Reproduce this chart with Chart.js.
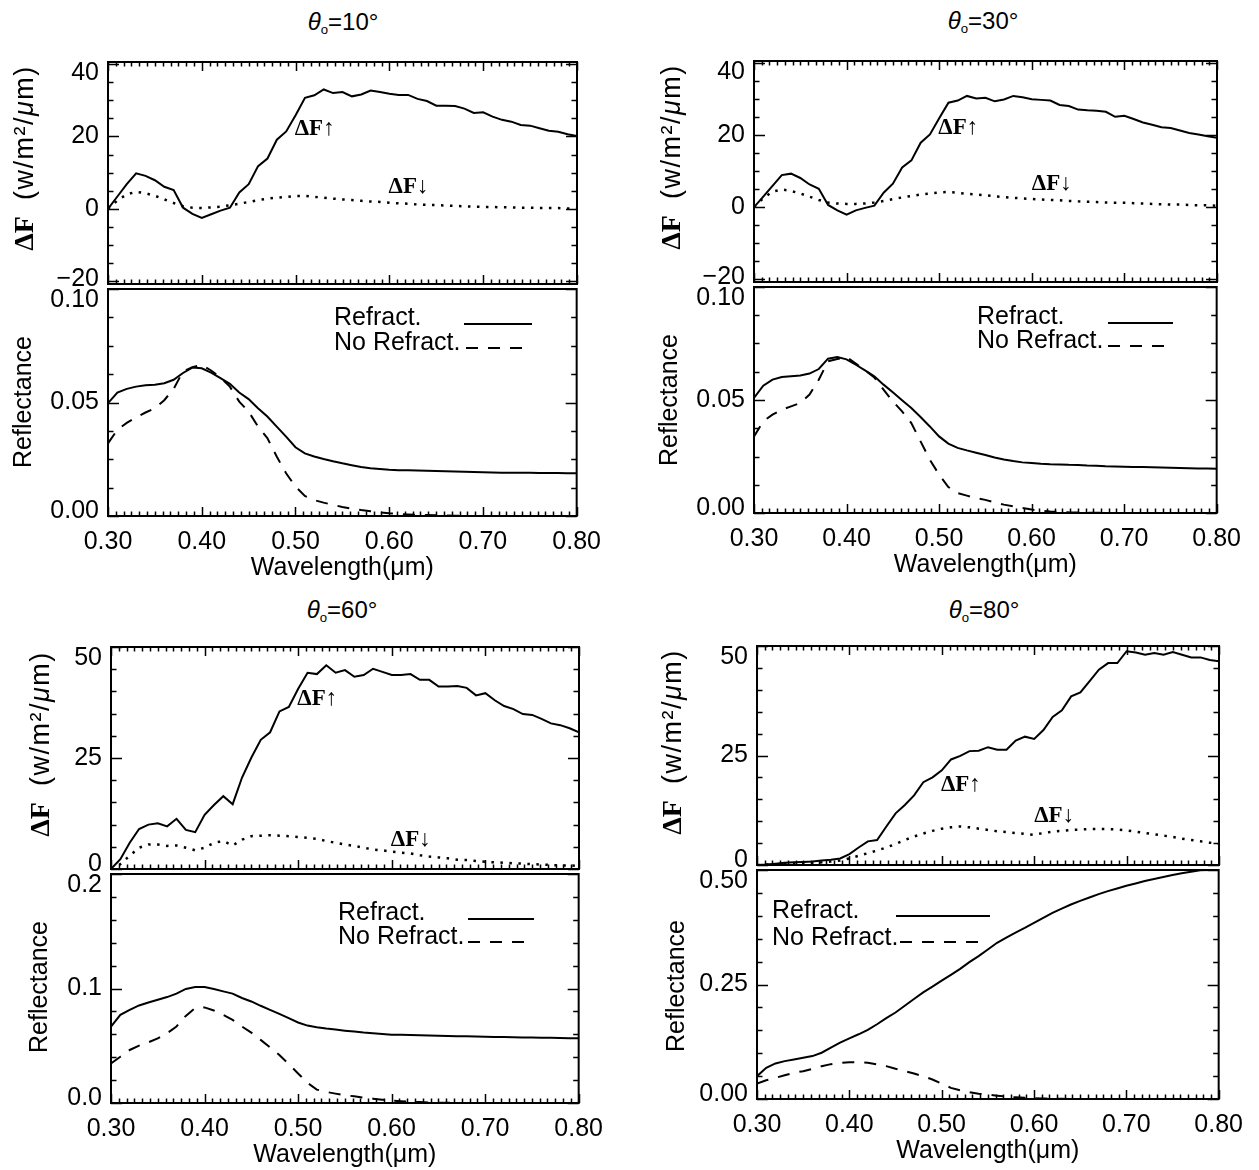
<!DOCTYPE html>
<html><head><meta charset="utf-8">
<script src="https://cdn.jsdelivr.net/npm/chart.js@4/dist/chart.umd.min.js"></script>
<style>
html,body{margin:0;padding:0;background:#fff}
body{width:1259px;height:1170px;position:relative;overflow:hidden;font-family:"Liberation Sans",Arial,sans-serif;color:#000}
canvas{position:absolute}
.t{position:absolute;white-space:nowrap;transform:translate(-50%,-50%);font-size:24px;line-height:1}
.t sub{font-size:0.55em;vertical-align:-0.3em}
.yt{position:absolute;white-space:nowrap;transform:translate(-50%,-50%) rotate(-90deg);font-size:25px;line-height:1}
.yf{font-size:27px;letter-spacing:1.5px}
.sf{font-family:"Liberation Serif","Times New Roman",serif;font-weight:bold;font-size:28px;letter-spacing:0;margin-right:16px}
</style></head><body>
<script>
// ---------------- data ----------------
const wavelengths = [0.30,0.31,0.32,0.33,0.34,0.35,0.36,0.37,0.38,0.39,
  0.40,0.41,0.42,0.43,0.44,0.45,0.46,0.47,0.48,0.49,
  0.50,0.51,0.52,0.53,0.54,0.55,0.56,0.57,0.58,0.59,
  0.60,0.61,0.62,0.63,0.64,0.65,0.66,0.67,0.68,0.69,
  0.70,0.71,0.72,0.73,0.74,0.75,0.76,0.77,0.78,0.79,0.80];
const xTickValues = [0.3,0.4,0.5,0.6,0.7,0.8];
const xTickLabels = ['0.30','0.40','0.50','0.60','0.70','0.80'];

// theta0 = 10
const dfUp10 = [0,3.4,6.8,9.8,9.1,7.9,6.1,5.2,0.3,-1.4,
  -2.5,-1.5,-0.5,0.3,4.5,6.8,11.8,13.9,19.1,21.4,
  25.9,30.7,31.4,33.0,32.0,32.3,31.1,31.6,32.7,32.3,
  31.8,31.5,31.5,30.4,29.8,28.5,28.5,28.4,27.7,26.5,
  26.7,25.5,24.6,24.1,23.2,23.0,22.3,21.6,21.3,20.6,20.1];
const dfDown10 = [0,2.3,4.0,4.7,4.3,3.6,2.6,1.6,0.7,0.3,
  0.2,0.4,0.6,1.0,1.4,1.9,2.4,2.8,3.1,3.3,
  3.5,3.6,3.3,3.1,2.8,2.6,2.4,2.2,2.0,1.9,
  1.7,1.5,1.4,1.2,1.1,1.0,0.9,0.8,0.7,0.6,
  0.5,0.5,0.4,0.4,0.3,0.3,0.2,0.2,0.2,0.1,0.1];
const reflOn10 = [0.0497,0.0544,0.0560,0.0570,0.0576,0.0578,0.0585,0.0600,0.0630,0.0654,
  0.0651,0.0632,0.0607,0.0582,0.0544,0.0515,0.0475,0.0438,0.0394,0.0350,
  0.0303,0.0276,0.0262,0.0251,0.0241,0.0232,0.0224,0.0216,0.0210,0.0207,
  0.0204,0.0202,0.0201,0.0200,0.0199,0.0198,0.0197,0.0196,0.0195,0.0194,
  0.0193,0.0192,0.0191,0.0191,0.0190,0.0190,0.0189,0.0189,0.0189,0.0188,0.0188];
const reflOff10 = [0.0320,0.0380,0.0410,0.0435,0.0456,0.0475,0.0510,0.0560,0.0637,0.0656,
  0.0666,0.0641,0.0610,0.0570,0.0504,0.0460,0.0394,0.0343,0.0262,0.0188,
  0.0130,0.0088,0.0070,0.0059,0.0049,0.0040,0.0032,0.0026,0.0021,0.0016,
  0.0012,0.0009,0.0007,0.0005,0.0004,0.0003,0.0002,0.0001,0.0001,0,
  0,0,0,0,0,0,0,0,0,0,0];

// theta0 = 30
const dfUp30 = [0,2.9,5.9,8.9,9.3,8.1,6.3,5.1,0.6,-0.9,
  -2.1,-0.9,-0.2,0.4,4.0,6.5,11.0,13.0,17.9,20.2,
  24.7,29.0,29.6,30.9,30.2,30.4,29.4,29.9,30.9,30.5,
  30.0,29.8,29.6,28.4,28.1,27.1,26.9,26.8,26.5,25.1,
  25.4,24.5,23.5,22.9,22.2,22.0,21.3,20.6,20.2,19.7,19.3];
const dfDown30 = [0,2.5,4.3,4.9,4.5,3.8,2.9,2.0,1.3,1.0,
  0.9,0.9,1.0,1.3,1.7,2.2,2.7,3.1,3.5,3.8,
  4.1,4.2,4.0,3.7,3.5,3.3,3.0,2.8,2.6,2.4,
  2.3,2.1,2.0,1.9,1.7,1.6,1.5,1.4,1.3,1.2,
  1.2,1.1,1.0,0.9,0.8,0.7,0.7,0.6,0.5,0.5,0.4];
const reflOn30 = [0.0509,0.0563,0.0590,0.0602,0.0605,0.0608,0.0617,0.0637,0.0683,0.0690,
  0.0680,0.0656,0.0631,0.0605,0.0568,0.0534,0.0499,0.0465,0.0425,0.0383,
  0.0339,0.0307,0.0288,0.0277,0.0267,0.0257,0.0246,0.0237,0.0230,0.0224,
  0.0221,0.0218,0.0216,0.0215,0.0213,0.0212,0.0210,0.0209,0.0207,0.0206,
  0.0205,0.0204,0.0203,0.0202,0.0201,0.0200,0.0199,0.0198,0.0197,0.0197,0.0196];
const reflOff30 = [0.0339,0.0406,0.0435,0.0457,0.0472,0.0487,0.0524,0.0590,0.0671,0.0681,
  0.0690,0.0661,0.0631,0.0600,0.0546,0.0494,0.0450,0.0398,0.0317,0.0236,
  0.0170,0.0115,0.0088,0.0077,0.0066,0.0058,0.0047,0.0037,0.0030,0.0022,
  0.0015,0.0010,0.0007,0.0005,0.0003,0.0002,0.0001,0.0001,0,0,
  0,0,0,0,0,0,0,0,0,0,0];

// theta0 = 60
const dfUp60 = [0,2.2,5.9,9.0,10.0,10.3,9.6,11.3,8.8,8.3,
  12.2,14.4,16.4,14.6,20.6,25.1,29.1,30.8,35.5,36.5,
  40.6,44.2,43.9,45.9,44.2,44.8,43.3,43.7,45.1,44.4,
  43.7,43.7,43.9,42.6,42.6,41.1,41.1,41.2,40.8,39.1,
  39.6,38.0,36.7,36.0,34.9,34.7,33.8,32.8,32.4,31.7,30.8];
const dfDown60 = [0,1.1,3.0,4.8,5.5,5.5,5.2,5.3,4.8,4.2,
  4.8,5.9,6.3,5.3,6.6,7.4,7.5,7.6,7.5,7.4,
  7.2,7.0,6.8,6.3,5.9,5.5,5.2,4.8,4.4,4.2,
  3.9,3.7,3.5,3.1,2.8,2.6,2.4,2.1,2.0,1.8,
  1.6,1.5,1.4,1.3,1.2,1.1,1.0,0.9,0.8,0.8,0.7];
const reflOn60 = [0.0668,0.0770,0.0814,0.0852,0.0878,0.0902,0.0925,0.0955,0.0996,0.1013,
  0.1013,0.0996,0.0975,0.0955,0.0917,0.0887,0.0849,0.0814,0.0779,0.0741,
  0.0703,0.0676,0.0662,0.0650,0.0641,0.0632,0.0624,0.0615,0.0609,0.0603,
  0.0597,0.0596,0.0594,0.0592,0.0590,0.0588,0.0586,0.0584,0.0582,0.0580,
  0.0579,0.0577,0.0576,0.0574,0.0573,0.0571,0.0570,0.0569,0.0567,0.0566,0.0565];
const reflOff60 = [0.0346,0.0404,0.0463,0.0501,0.0530,0.0565,0.0609,0.0668,0.0761,0.0829,
  0.0835,0.0808,0.0770,0.0726,0.0668,0.0615,0.0551,0.0486,0.0419,0.0340,
  0.0258,0.0176,0.0117,0.0097,0.0082,0.0067,0.0059,0.0047,0.0038,0.0029,
  0.0022,0.0016,0.0011,0.0008,0.0005,0.0003,0.0002,0.0001,0.0001,0,
  0,0,0,0,0,0,0,0,0,0,0];

// theta0 = 80
const dfUp80 = [0,0.1,0.3,0.5,0.6,0.7,0.8,1.0,1.2,1.5,
  2.5,4.0,5.4,5.7,8.8,11.8,13.7,15.9,18.9,20.0,
  21.6,24.1,24.9,26.0,26.1,26.9,26.3,26.3,28.4,29.3,
  28.8,30.8,33.8,35.3,38.5,39.4,42.0,44.6,46.1,46.1,
  48.8,48.5,48.0,48.4,48.0,48.6,48.0,47.4,47.4,46.8,46.5];
const dfDown80 = [0,0.1,0.1,0.2,0.3,0.4,0.5,0.6,0.8,1.0,
  1.5,2.1,2.7,3.3,4.0,4.8,5.7,6.5,7.2,7.8,
  8.3,8.6,8.8,8.6,8.3,8.0,7.7,7.5,7.3,7.1,
  6.9,7.3,7.6,7.8,8.0,8.1,8.2,8.2,8.2,8.1,
  7.9,7.6,7.3,7.0,6.7,6.4,6.0,5.7,5.4,5.1,4.8];
const reflOn80 = [0.0498,0.0680,0.0776,0.0827,0.0864,0.0900,0.0937,0.1010,0.1120,0.1230,
  0.1325,0.1413,0.1508,0.1632,0.1764,0.1889,0.2035,0.2182,0.2328,0.2452,
  0.2584,0.2709,0.2840,0.2987,0.3119,0.3265,0.3411,0.3521,0.3631,0.3734,
  0.3843,0.3953,0.4063,0.4158,0.4246,0.4326,0.4400,0.4473,0.4539,0.4597,
  0.4656,0.4707,0.4758,0.4802,0.4846,0.4890,0.4927,0.4963,0.4993,0.5000,0.5000];
const reflOff80 = [0.0337,0.0410,0.0461,0.0520,0.0571,0.0608,0.0659,0.0717,0.0761,0.0790,
  0.0805,0.0805,0.0790,0.0754,0.0717,0.0659,0.0608,0.0556,0.0498,0.0425,
  0.0337,0.0242,0.0190,0.0146,0.0117,0.0095,0.0073,0.0051,0.0037,0.0025,
  0.0015,0.0010,0.0006,0.0004,0.0002,0.0001,0,0,0,0,
  0,0,0,0,0,0,0,0,0,0,0];

// y-axis ticks
const fluxTicksA = [-20,0,20,40];   const fluxLabelsA = ['\u221220','0','20','40'];
const reflTicksA = [0,0.05,0.10];   const reflLabelsA = ['0.00','0.05','0.10'];
const fluxTicksB = [0,25,50];       const fluxLabelsB = ['0','25','50'];
const reflTicks60 = [0,0.1,0.2];    const reflLabels60 = ['0.0','0.1','0.2'];
const reflTicks80 = [0,0.25,0.5];   const reflLabels80 = ['0.00','0.25','0.50'];
const panelAngles = ['10','30','60','80'];
const legendLabels = ['Refract.','No Refract.'];
const upLabel = '\u0394F\u2191', downLabel = '\u0394F\u2193';

// ---------------- layout & style ----------------
const FONT = '"Liberation Sans", Arial, sans-serif';
const SERIF = '"Liberation Serif", "Times New Roman", serif';
const PL = 100, PR = 35, PT = 20;
const panels = [
 {angle:panelAngles[0], l:108, r:577, t:62, m:289, b:516, title:[343,23], fT:[24,158], rT:[22,402],
  up:dfUp10, down:dfDown10, on:reflOn10, off:reflOff10,
  fy:{min:-20.8,max:40.6,ticks:fluxTicksA,labels:fluxLabelsA,minor:5},
  ry:{min:0,max:0.10,ticks:reflTicksA,labels:reflLabelsA,minor:0.0125},
  upAt:[0.499,22], downAt:[0.599,6.1],
  leg:{tx:226, rows:[[29,356,424,35],[54,358,424,59]]}},
 {angle:panelAngles[1], l:754, r:1217, t:61, m:287, b:513, title:[983,22], fT:[671,157], rT:[668,400],
  up:dfUp30, down:dfDown30, on:reflOn30, off:reflOff30,
  fy:{min:-20.8,max:40.6,ticks:fluxTicksA,labels:fluxLabelsA,minor:5},
  ry:{min:0,max:0.10,ticks:reflTicksA,labels:reflLabelsA,minor:0.0125},
  upAt:[0.499,22.1], downAt:[0.600,6.5],
  leg:{tx:223, rows:[[30,354,419,36],[54,354,418,59]]}},
 {angle:panelAngles[2], l:111, r:579, t:647, m:874, b:1103, title:[342,611], fT:[40,744], rT:[38,987],
  up:dfUp60, down:dfDown60, on:reflOn60, off:reflOff60,
  fy:{min:0,max:50,ticks:fluxTicksB,labels:fluxLabelsB,minor:5},
  ry:{min:0,max:0.2,ticks:reflTicks60,labels:reflLabels60,minor:0.02},
  upAt:[0.499,38.3], downAt:[0.599,6.5],
  leg:{tx:227, rows:[[39,357,423,45],[63,357,423,68]]}},
 {angle:panelAngles[3], l:757, r:1219, t:646, m:870, b:1099, title:[984,611], fT:[672,742], rT:[675,986],
  up:dfUp80, down:dfDown80, on:reflOn80, off:reflOff80,
  fy:{min:0,max:50,ticks:fluxTicksB,labels:fluxLabelsB,minor:5},
  ry:{min:0,max:0.5,ticks:reflTicks80,labels:reflLabels80,minor:0.05},
  upAt:[0.499,18.3], downAt:[0.600,11.1],
  leg:{tx:15, rows:[[41,139,233,46],[68,143,231,72]]}}
];
const X_MINOR_PER_MAJOR = 12;
const DOT = [2.5,6.5], DASH = [12,10];

function framePlugin(cfg){
  return {
    id:'frame',
    afterDraw(chart){
      const ctx = chart.ctx, a = chart.chartArea, xs = chart.scales.x, ys = chart.scales.y;
      ctx.save();
      ctx.strokeStyle = '#000'; ctx.fillStyle = '#000';
      // x ticks
      ctx.lineWidth = 1.5;
      ctx.beginPath();
      const nX = (xTickValues.length - 1) * X_MINOR_PER_MAJOR;
      for (let k = 0; k <= nX; k++) {
        const v = xTickValues[0] + (k / X_MINOR_PER_MAJOR) * (xTickValues[1] - xTickValues[0]);
        const px = Math.round(xs.getPixelForValue(v)) + 0.5;
        const len = (k % X_MINOR_PER_MAJOR === 0) ? 9 : 4.5;
        if (cfg.topTicks) { ctx.moveTo(px, a.top); ctx.lineTo(px, a.top + len); }
        ctx.moveTo(px, a.bottom); ctx.lineTo(px, a.bottom - len);
      }
      // y ticks
      const y = cfg.y;
      const kStart = Math.ceil(y.min / y.minor - 1e-9), kEnd = Math.floor(y.max / y.minor + 1e-9);
      for (let k = kStart; k <= kEnd; k++) {
        const v = k * y.minor;
        const major = y.ticks.some(t => Math.abs(t - v) < y.minor * 0.01);
        const py = Math.round(ys.getPixelForValue(v)) + 0.5;
        const len = major ? 11 : 5.5;
        ctx.moveTo(a.left, py); ctx.lineTo(a.left + len, py);
        ctx.moveTo(a.right, py); ctx.lineTo(a.right - len, py);
      }
      ctx.stroke();
      // box
      ctx.lineWidth = 2;
      ctx.strokeRect(a.left, a.top, a.right - a.left, a.bottom - a.top);
      // y labels
      ctx.font = '25px ' + FONT; ctx.textAlign = 'right'; ctx.textBaseline = 'middle';
      y.ticks.forEach((v, i) => {
        let py = ys.getPixelForValue(v);
        py = Math.min(Math.max(py, a.top + 11), a.bottom - 5);
        ctx.fillText(y.labels[i], a.left - 9, py);
      });
      // in-plot annotations
      if (cfg.notes) {
        ctx.font = 'bold 23px ' + SERIF; ctx.textAlign = 'left'; ctx.textBaseline = 'middle';
        cfg.notes.forEach(n => ctx.fillText(n.text, xs.getPixelForValue(n.at[0]), ys.getPixelForValue(n.at[1])));
      }
      // legend
      if (cfg.leg) {
        ctx.font = '25px ' + FONT; ctx.textAlign = 'left'; ctx.textBaseline = 'middle';
        cfg.leg.rows.forEach((r, i) => {
          ctx.fillText(legendLabels[i], a.left + cfg.leg.tx, a.top + r[0]);
          ctx.lineWidth = 2;
          ctx.setLineDash(i === 0 ? [] : DASH);
          ctx.beginPath();
          ctx.moveTo(a.left + r[1], a.top + r[3]); ctx.lineTo(a.left + r[2], a.top + r[3]);
          ctx.stroke();
        });
        ctx.setLineDash([]);
      }
      ctx.restore();
    }
  };
}

function series(vals, dash, width){
  return {data: wavelengths.map((w, i) => ({x: w, y: vals[i]})),
    borderColor:'#000', borderWidth: width, borderDash: dash, pointRadius:0, fill:false, tension:0,
    borderCapStyle:'butt'};
}

function makeChart(l, r, t, b, padB, showX, datasets, y, extra){
  const c = document.createElement('canvas');
  const W = r - l + PL + PR, H = b - t + PT + padB;
  c.width = W; c.height = H;
  c.style.left = (l - PL) + 'px'; c.style.top = (t - PT) + 'px';
  c.style.width = W + 'px'; c.style.height = H + 'px';
  document.body.appendChild(c);
  const xScale = {type:'linear', min:0.3, max:0.8, display: showX, position:'bottom',
    afterBuildTicks: s => { s.ticks = xTickValues.map(v => ({value: v})); },
    afterFit: s => { s.height = padB; },
    ticks:{autoSkip:false, maxRotation:0, minRotation:0, padding:11, color:'#000',
      font:{family:FONT, size:25}, callback:(v, i) => xTickLabels[i]},
    grid:{display:false, drawTicks:false}, border:{display:false},
    title:{display:true, text:'Wavelength(\u03bcm)', color:'#000', font:{family:FONT, size:25}, padding:{top:0, bottom:3}}
  };
  new Chart(c, {
    type:'line',
    data:{datasets},
    options:{
      responsive:false, animation:false, devicePixelRatio:1,
      layout:{padding:{left:PL, right:PR, top:PT, bottom: showX ? 0 : padB}},
      plugins:{legend:{display:false}, tooltip:{enabled:false}},
      scales:{ x: xScale, y:{type:'linear', min:y.min, max:y.max, display:false} }
    },
    plugins:[framePlugin(Object.assign({y}, extra))]
  });
}

function addText(cls, x, y, html){
  const d = document.createElement('div');
  d.className = cls; d.style.left = x + 'px'; d.style.top = y + 'px';
  d.innerHTML = html; document.body.appendChild(d);
}

panels.forEach(p => {
  makeChart(p.l, p.r, p.t, p.m, 5, false,
    [series(p.up, [], 2), series(p.down, DOT, 2.5)], p.fy,
    {topTicks:true, notes:[{text:upLabel, at:p.upAt}, {text:downLabel, at:p.downAt}]});
  makeChart(p.l, p.r, p.m, p.b, 70, true,
    [series(p.on, [], 2), series(p.off, DASH, 2)], p.ry,
    {topTicks:false, leg:p.leg});
  addText('t', p.title[0], p.title[1], '<i>\u03b8</i><sub>o</sub>=' + p.angle + '\u00b0');
  addText('yt yf', p.fT[0], p.fT[1], '<span class="sf">\u0394F</span>(w/m\u00b2/<i>\u03bc</i>m)');
  addText('yt', p.rT[0], p.rT[1], 'Reflectance');
});
</script>
</body></html>
